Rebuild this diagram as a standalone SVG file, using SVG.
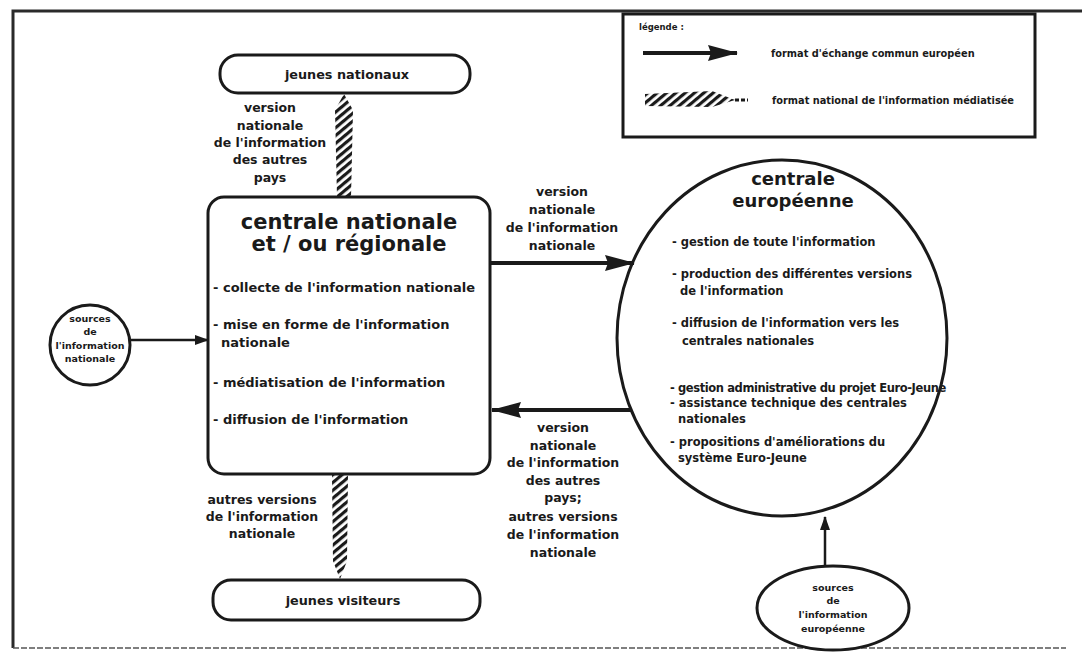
<svg xmlns="http://www.w3.org/2000/svg" width="1082" height="653" viewBox="0 0 1082 653">
<style>
.t{font-family:"DejaVu Sans","Liberation Sans",Arial,sans-serif;font-weight:bold;fill:#1a1a1a}
.c{text-anchor:middle}
.lbl{font-size:12.5px}
.item{font-size:13px}
.citem{font-size:11.5px}
.title{font-size:21px}
.ctitle{font-size:18px}
.small{font-size:9.5px}
.leg{font-size:9.8px}
.box{fill:#fff;stroke:#1a1a1a;stroke-width:3}
.ln{stroke:#1a1a1a;stroke-width:4;fill:none}
.lnS{stroke:#1a1a1a;stroke-width:2.5;fill:none}
</style>
<defs>
<marker id="ah" viewBox="0 0 30 16" markerWidth="30" markerHeight="16" refX="29" refY="8" orient="auto" markerUnits="userSpaceOnUse">
<path d="M0,0 L30,8 L0,16 L3,8 z" fill="#1a1a1a"/>
</marker>
<marker id="ahs" viewBox="0 0 14 10" markerWidth="14" markerHeight="10" refX="13" refY="5" orient="auto" markerUnits="userSpaceOnUse">
<path d="M0,0 L14,5 L0,10 z" fill="#1a1a1a"/>
</marker>
<pattern id="hatch" patternUnits="userSpaceOnUse" width="6" height="6" patternTransform="rotate(-40)">
<rect x="0" y="0" width="6" height="3.2" fill="#1a1a1a"/>
</pattern>
</defs>
<rect width="1082" height="653" fill="#fff"/>
<g id="frame">
<path d="M13,648 L13,11 L1082,11" fill="none" stroke="#2a2a2a" stroke-width="3"/>
<line x1="13" y1="648" x2="1066" y2="648" stroke="#555" stroke-width="1.5" stroke-dasharray="6 2"/>
</g>
<g id="legend">
<rect x="623" y="14" width="412" height="123" fill="#fff" stroke="#1a1a1a" stroke-width="3"/>
<text class="t" style="font-size:8.5px" x="639" y="30">légende :</text>
<line x1="643" y1="53" x2="737" y2="53" class="ln" marker-end="url(#ah)"/>
<text class="t leg" x="771" y="57">format d'échange commun européen</text>
<polygon points="645,94 712,91 735,100 712,107 645,106" fill="url(#hatch)"/>
<line x1="735" y1="100" x2="748" y2="100" stroke="#1a1a1a" stroke-width="3" stroke-dasharray="4 2"/>
<text class="t leg" x="772" y="104">format national de l'information médiatisée</text>
</g>
<g id="jeunes-nationaux">
<rect x="220" y="55" width="250" height="38" rx="18" class="box"/>
<text class="t c" style="font-size:12.8px" x="347" y="79">jeunes nationaux</text>
</g>
<g id="centrale-nationale">
<rect x="208" y="197" width="282" height="277" rx="16" class="box"/>
<text class="t c title" x="349" y="229">centrale nationale</text>
<text class="t c title" x="349" y="251">et / ou régionale</text>
<text class="t item" x="213" y="292">- collecte de l'information nationale</text>
<text class="t item" x="213" y="329">- mise en forme de l'information</text>
<text class="t item" x="221" y="347">nationale</text>
<text class="t item" x="213" y="387">- médiatisation de l'information</text>
<text class="t item" x="213" y="424">- diffusion de l'information</text>
</g>
<g id="sources-nationales">
<circle cx="90" cy="345" r="40" class="box"/>
<text class="t c small" x="90" y="322">sources</text>
<text class="t c small" x="90" y="335">de</text>
<text class="t c small" x="90" y="349">l'information</text>
<text class="t c small" x="90" y="362">nationale</text>
</g>
<g id="centrale-europeenne">
<ellipse cx="782" cy="338" rx="165" ry="178" class="box"/>
<text class="t c ctitle" x="793" y="185">centrale</text>
<text class="t c ctitle" x="793" y="207">européenne</text>
<text class="t citem" x="672" y="246">- gestion de toute l'information</text>
<text class="t citem" x="672" y="278">- production des différentes versions</text>
<text class="t citem" x="680" y="295">de l'information</text>
<text class="t citem" x="672" y="327">- diffusion de l'information vers les</text>
<text class="t citem" x="682" y="345">centrales nationales</text>
<text class="t citem" x="670" y="392" style="letter-spacing:-0.4px">- gestion administrative du projet Euro-Jeune</text>
<text class="t citem" x="670" y="407">- assistance technique des centrales</text>
<text class="t citem" x="678" y="423">nationales</text>
<text class="t citem" x="670" y="446">- propositions d'améliorations du</text>
<text class="t citem" x="678" y="462">système Euro-Jeune</text>
</g>
<g id="sources-europeennes">
<ellipse cx="833" cy="608" rx="76" ry="42" class="box"/>
<text class="t c small" x="833" y="591">sources</text>
<text class="t c small" x="833" y="604">de</text>
<text class="t c small" x="833" y="618">l'information</text>
<text class="t c small" x="833" y="632">européenne</text>
</g>
<g id="jeunes-visiteurs">
<rect x="213" y="580" width="267" height="40" rx="18" class="box"/>
<text class="t c" style="font-size:12.8px" x="343" y="605">jeunes visiteurs</text>
</g>
<g id="connectors">
<polygon points="344,94 353,110 351,197 337,197 335,110" fill="url(#hatch)"/>
<text class="t c lbl" x="270" y="112">version</text>
<text class="t c lbl" x="270" y="130">nationale</text>
<text class="t c lbl" x="270" y="147">de l'information</text>
<text class="t c lbl" x="270" y="164">des autres</text>
<text class="t c lbl" x="270" y="182">pays</text>
<line x1="490" y1="263" x2="634" y2="263" class="ln" marker-end="url(#ah)"/>
<text class="t c lbl" x="562" y="196">version</text>
<text class="t c lbl" x="562" y="214">nationale</text>
<text class="t c lbl" x="562" y="232">de l'information</text>
<text class="t c lbl" x="562" y="250">nationale</text>
<line x1="632" y1="410" x2="492" y2="410" class="ln" marker-end="url(#ah)"/>
<text class="t c lbl" x="563" y="432">version</text>
<text class="t c lbl" x="563" y="450">nationale</text>
<text class="t c lbl" x="563" y="467">de l'information</text>
<text class="t c lbl" x="563" y="485">des autres</text>
<text class="t c lbl" x="563" y="502">pays;</text>
<text class="t c lbl" x="563" y="521">autres versions</text>
<text class="t c lbl" x="563" y="539">de l'information</text>
<text class="t c lbl" x="563" y="557">nationale</text>
<polygon points="332,475 348,475 347,561 340,579 333,561" fill="url(#hatch)"/>
<text class="t c lbl" x="262" y="504">autres versions</text>
<text class="t c lbl" x="262" y="521">de l'information</text>
<text class="t c lbl" x="262" y="538">nationale</text>
<line x1="130" y1="340" x2="208" y2="340" class="lnS" marker-end="url(#ahs)"/>
<line x1="825" y1="566" x2="825" y2="517" class="lnS" marker-end="url(#ahs)"/>
</g>
</svg>
